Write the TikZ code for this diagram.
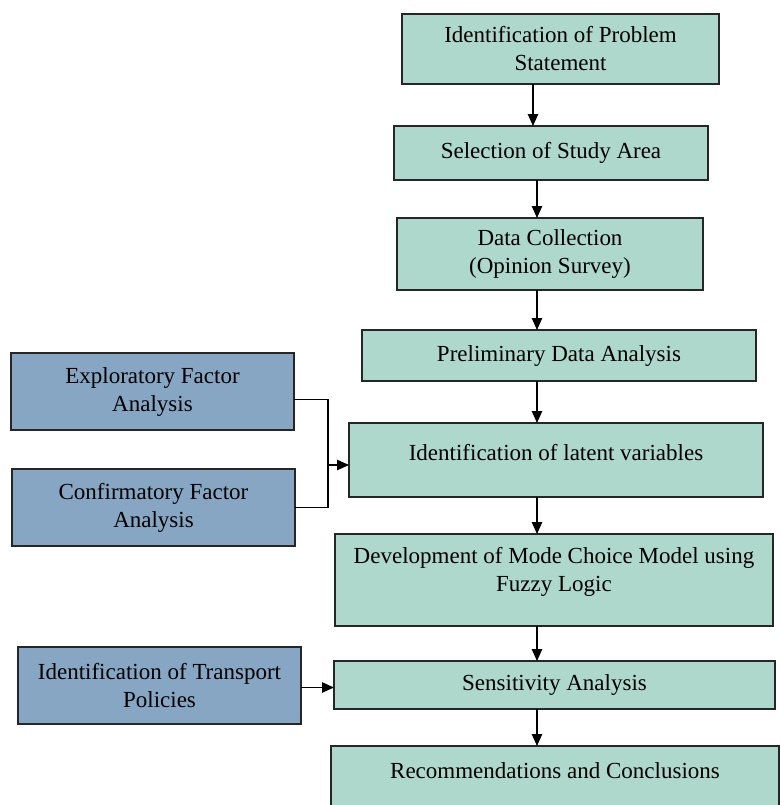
\documentclass[tikz,border=0pt]{standalone}
\usepackage{fontspec}
\setmainfont{Liberation Serif}
\usepackage{xcolor}
\definecolor{Sea Green}{HTML}{AED8CC}
\definecolor{Steel Blue}{HTML}{86A6C4}
\colorlet{cGreen}{Sea Green}
\colorlet{cBlue}{Steel Blue}
\usetikzlibrary{calc, positioning, arrows.meta}
\tikzset{
	x = .5pt,
	y = -.5pt,
	font = \fontsize{11.5}{14}\selectfont,
	box/.style={
		draw=black!85,
		line width=1pt,
		align=center,
		inner sep=2pt,
		outer sep=0pt
	},
	stage/.style={
		box,
		fill=cGreen
	},
	side/.style={
		box,
		fill=cBlue,
		minimum width=141.5pt,
		minimum height=38.5pt
	},
	edge/.style={
		line width=.7pt,
		-{Triangle[length=6pt, width=5.2pt]}
	},
	wire/.style={
		line width=.7pt
	}
}

\begin{document}
\begin{tikzpicture}
		\useasboundingbox (0,0) rectangle (780,805);

		\node[stage, minimum width=158.5pt, minimum height=35pt] (s1) at (560.5,49) {Identification of Problem\\Statement};
		\node[stage, minimum width=157pt, minimum height=27pt] (s2) at (551,153) {Selection of Study Area};
		\node[stage, minimum width=153pt, minimum height=36pt] (s3) at (550,254) {Data Collection\\(Opinion Survey)};
		\node[stage, minimum width=197pt, minimum height=25.5pt] (s4) at (559,355.5) {Preliminary Data Analysis};
		\node[stage, minimum width=207pt, minimum height=37pt, text depth=8pt] (s5) at (556,460) {Identification of latent variables};
		\node[stage, minimum width=219pt, minimum height=46pt, text depth=10.5pt] (s6) at (554,580) {Development of Mode Choice Model using\\Fuzzy Logic};
		\node[stage, minimum width=220.5pt, minimum height=24pt] (s7) at (554.5,685) {Sensitivity Analysis};
		\node[stage, minimum width=224pt, anchor=north, inner ysep=8.5pt, text depth=20pt] (s8) at (555,746) {Recommendations and Conclusions};

		\node[side] (f1) at (152.5,391.5) {Exploratory Factor\\Analysis};
		\node[side] (f2) at (153.5,507.5) {Confirmatory Factor\\Analysis};
		\node[side] (tp) at (159.5,685.5) {Identification of Transport\\Policies};

		\coordinate (c1) at (533,0);
		\coordinate (c2) at (537,0);
		\coordinate (jn) at (328,465);

		\draw[edge] (s1.south -| c1) to (s2.north -| c1);
		\draw[edge] (s2.south -| c2) to (s3.north -| c2);
		\draw[edge] (s3.south -| c2) to (s4.north -| c2);
		\draw[edge] (s4.south -| c2) to (s5.north -| c2);
		\draw[edge] (s5.south -| c2) to (s6.north -| c2);
		\draw[edge] (s6.south -| c2) to (s7.north -| c2);
		\draw[edge] (s7.south -| c2) to (s8.north -| c2);

		\draw[wire] ([yshift=-4pt]f1.east) -| (jn);
		\draw[wire] (f2.east) -| (jn);
		\draw[edge] (jn) to (jn -| s5.west);
		\draw[edge] ([yshift=-1pt]tp.east) to ([yshift=-1pt]tp.east -| s7.west);
	\end{tikzpicture}
\end{document}
